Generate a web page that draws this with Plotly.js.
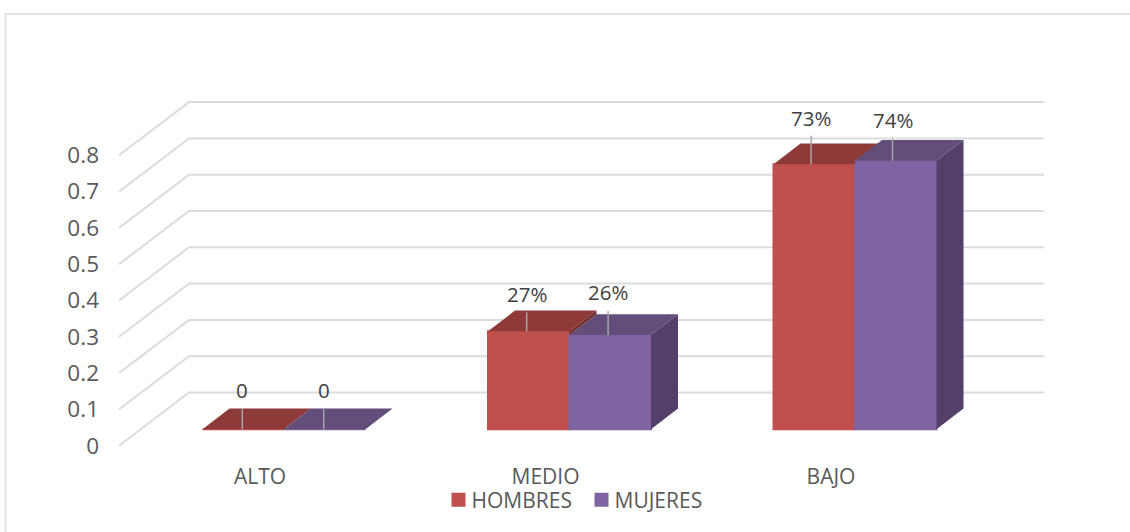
<!DOCTYPE html>
<html><head><meta charset="utf-8">
<script src="https://cdn.plot.ly/plotly-3.0.1.min.js"></script>
<style>html,body{margin:0;padding:0;background:#fff;overflow:hidden}#c{width:1130px;height:532px}</style>
</head><body><div id="c"></div>
<script>
const categories = ['ALTO', 'MEDIO', 'BAJO'];
const hombres = [0, 0.27, 0.73];
const mujeres = [0, 0.26, 0.74];
const axisTicks = [0, 0.1, 0.2, 0.3, 0.4, 0.5, 0.6, 0.7, 0.8];
const seriesNames = ['HOMBRES', 'MUJERES'];
const labelsHombres = ['0', '27%', '73%'];
const labelsMujeres = ['0', '26%', '74%'];

// Leader line length and label lift above each bar, in value units
const leaderHombres = [0.059, 0.052, 0.079];
const leaderMujeres = [0.059, 0.066, 0.061];
const liftHombres = [0.108, 0.103, 0.128];
const liftMujeres = [0.108, 0.119, 0.112];

// Pixel geometry of the fake 3D view
const W = 1130, H = 532, mL = 100, mB = 70;
const groupStep = 285.5, groupC = 284, pxPerVal = 363, base = 429.3;
const barW = 81.5 / groupStep;
const depthX = 27 / groupStep, depthY = 20.7 / pxPerVal;
const xOf = p => (p - groupC) / groupStep;
const yOf = p => (base - p) / pxPerVal;

const RED = '#C0504D', RED_TOP = '#8E3A38', RED_SIDE = '#74302E';
const PUR = '#8064A2', PUR_TOP = '#624D7B', PUR_SIDE = '#533F69';
const GRID = '#DCDCDC', TXT = '#595959', LBL = '#404040', LEAD = '#A6A6A6';
const FONT = '"Open Sans", sans-serif';

function poly(xs, ys, color) {
  return {type: 'scatter', mode: 'none', x: xs.concat(xs[0]), y: ys.concat(ys[0]), fill: 'toself',
    fillcolor: color, showlegend: false, hoverinfo: 'skip'};
}
function faces(i, s) {
  const v = s === 0 ? hombres[i] : mujeres[i];
  const other = s === 0 ? mujeres[i] : hombres[i];
  const xl = i + (s === 0 ? -barW : 0), xr = xl + barW;
  const colTop = s === 0 ? RED_TOP : PUR_TOP, colSide = s === 0 ? RED_SIDE : PUR_SIDE;
  const out = [];
  const xsT = [xl, xr], ysT = [v, v];
  if (s === 0 && other > v) { xsT.push(xr); ysT.push(other); }
  xsT.push(xr + depthX, xl + depthX); ysT.push(v + depthY, v + depthY);
  out.push(poly(xsT, ysT, colTop));
  // The left series only shows the part of its side that rises above its neighbour
  const floor = s === 0 ? other : 0;
  if (v > floor) out.push(poly([xr, xr + depthX, xr + depthX, xr], [floor, floor + depthY, v + depthY, v], colSide));
  return out;
}

const traces = [
  {type: 'bar', name: seriesNames[0], x: categories.map((c, i) => i), y: hombres, width: barW, offset: -barW,
   marker: {color: RED, line: {color: RED, width: 2}}, hoverinfo: 'skip'},
  {type: 'bar', name: seriesNames[1], x: categories.map((c, i) => i), y: mujeres, width: barW, offset: 0,
   marker: {color: PUR, line: {color: PUR, width: 2}}, hoverinfo: 'skip'}
];
categories.forEach((c, i) => {
  const order = hombres[i] > mujeres[i] ? [1, 0] : [0, 1];
  order.forEach(s => faces(i, s).forEach(t => traces.push(t)));
});
// Carrier for the offset tick-label axes
traces.push({type: 'scatter', mode: 'none', x: [0], y: [0], xaxis: 'x2', yaxis: 'y2', showlegend: false, hoverinfo: 'skip'});

const shapes = [];
axisTicks.forEach(v => {
  const yFront = v + yOf(445.7), yBack = v + yOf(392.5);
  shapes.push({type: 'path', layer: 'below', xref: 'x', yref: 'y',
    path: `M${xOf(119)},${yFront} L${xOf(189)},${yBack} L${xOf(1044)},${yBack}`,
    line: {color: GRID, width: 2}});
});
// outer chart frame, top and left edges only
const plotW = W - mL, plotH = H - mB;
shapes.push({type: 'path', layer: 'below', xref: 'paper', yref: 'paper',
  path: `M${(5.5 - mL) / plotW},${(plotH - H) / plotH} L${(5.5 - mL) / plotW},${(plotH - 14) / plotH} L1,${(plotH - 14) / plotH}`,
  line: {color: GRID, width: 1.5}});

const annotations = [];
const leaderX = (i, s) => xOf(242.3 + 284.4 * i + 81.4 * s);
[[hombres, leaderHombres, liftHombres, labelsHombres], [mujeres, leaderMujeres, liftMujeres, labelsMujeres]].forEach((row, s) => {
  row[0].forEach((v, i) => {
    shapes.push({type: 'line', layer: 'above', xref: 'x', yref: 'y', x0: leaderX(i, s), x1: leaderX(i, s),
      y0: v, y1: v + row[1][i], line: {color: LEAD, width: 1.5}});
    annotations.push({xref: 'x', yref: 'y', x: leaderX(i, s), y: v + row[2][i], text: row[3][i], showarrow: false,
      xanchor: 'center', yanchor: 'middle', font: {family: FONT, size: 20.5, color: LBL}});
  });
});

const xr = [xOf(mL), xOf(W)], yr = [yOf(H - mB), yOf(0)];
const yShift = (445.7 - base) / pxPerVal, xShift = (groupC - 260) / groupStep;
const layout = {
  width: W, height: H, margin: {l: mL, r: 0, t: 0, b: mB, pad: 0},
  paper_bgcolor: '#fff', plot_bgcolor: 'rgba(0,0,0,0)', barmode: 'overlay',
  font: {family: FONT, color: TXT, size: 20},
  xaxis: {range: xr, visible: false, fixedrange: true},
  yaxis: {range: yr, visible: false, fixedrange: true},
  xaxis2: {overlaying: 'x', anchor: 'y2', side: 'bottom', range: [xr[0] + xShift, xr[1] + xShift], tickmode: 'array',
    tickvals: categories.map((c, i) => i), ticktext: categories, showgrid: false, zeroline: false, showline: false, ticks: '',
    tickfont: {family: FONT, size: 21, color: TXT}, fixedrange: true},
  yaxis2: {overlaying: 'y', anchor: 'x2', side: 'left', range: [yr[0] + yShift, yr[1] + yShift], tickmode: 'array',
    tickvals: axisTicks, ticktext: axisTicks.map(String), showgrid: false, zeroline: false, showline: false, ticks: '',
    tickfont: {family: FONT, size: 22.5, color: TXT}, fixedrange: true},
  showlegend: true,
  legend: {orientation: 'h', x: (446.5 - mL) / plotW, xanchor: 'left', y: (plotH - 479.5) / plotH, yanchor: 'top',
    font: {family: FONT, size: 21, color: TXT}, indentation: -15, entrywidth: 113, entrywidthmode: 'pixels',
    bgcolor: 'rgba(0,0,0,0)', traceorder: 'normal'},
  shapes: shapes, annotations: annotations
};
Plotly.newPlot('c', traces, layout, {displayModeBar: false, staticPlot: true}).then(gd => {
  // Pull legend swatches next to their text, as in the reference
  gd.querySelectorAll('.legend .legendsymbols').forEach(g => g.setAttribute('transform', 'translate(7,0)'));
});
</script></body></html>
